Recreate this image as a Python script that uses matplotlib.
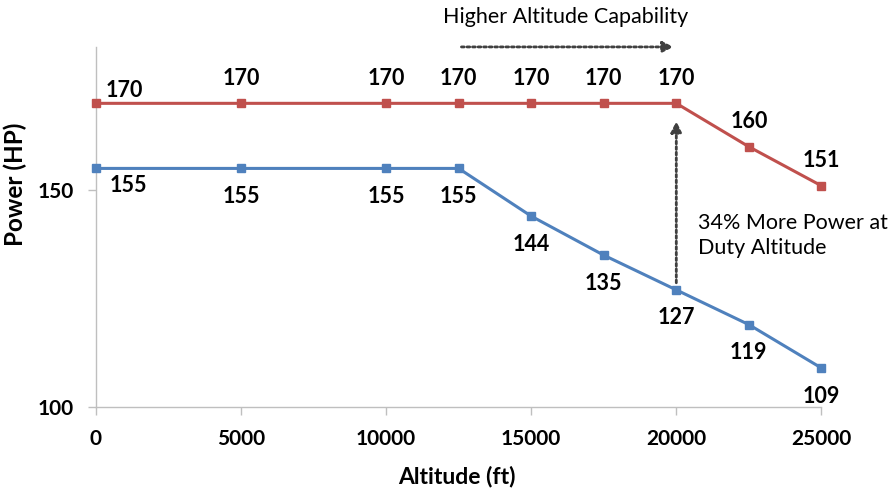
import matplotlib
matplotlib.use('Agg')
import matplotlib.pyplot as plt

# data
altitude = [0, 5000, 10000, 12500, 15000, 17500, 20000, 22500, 25000]
power_new = [170, 170, 170, 170, 170, 170, 170, 160, 151]
power_old = [155, 155, 155, 155, 144, 135, 127, 119, 109]
xticks = [0, 5000, 10000, 15000, 20000, 25000]
yticks = [100, 150]

RED = '#C0504D'
BLUE = '#4F81BD'
AXIS = '#BFBFBF'
DARK = '#404040'

plt.rcParams['font.family'] = ['Lato', 'DejaVu Sans']

fig = plt.figure(figsize=(8.88, 4.94), dpi=100)
ax = fig.add_axes([0.108, 0.176, 0.817, 0.729])

ax.plot(altitude, power_new, color=RED, lw=2.2, marker='s', ms=6, zorder=3, clip_on=False)
ax.plot(altitude, power_old, color=BLUE, lw=2.2, marker='s', ms=6, zorder=3, clip_on=False)

# data labels, red above, blue below (first ones nudged right)
for i, (x, y) in enumerate(zip(altitude, power_new)):
    dx, dy = (28, 13) if i == 0 else (0, 25)
    ax.annotate(str(y), (x, y), xytext=(dx, dy), textcoords='offset pixels',
                ha='center', va='center', fontsize=15.5, fontweight='bold', color='black')
for i, (x, y) in enumerate(zip(altitude, power_old)):
    dx, dy = (32, -17) if i == 0 else (0, -28)
    ax.annotate(str(y), (x, y), xytext=(dx, dy), textcoords='offset pixels',
                ha='center', va='center', fontsize=15.5, fontweight='bold', color='black')

ax.set_xlim(0, 25000)
ax.set_ylim(100, 183)
ax.set_xticks(xticks)
ax.set_yticks(yticks)
ax.tick_params(labelsize=15, length=6, width=1, color=AXIS, pad=10)
for lbl in ax.get_xticklabels() + ax.get_yticklabels():
    lbl.set_fontweight('bold')

for s in ['top', 'right']:
    ax.spines[s].set_visible(False)
for s in ['left', 'bottom']:
    ax.spines[s].set_color(AXIS)
    ax.spines[s].set_linewidth(1)

ax.set_xlabel('Altitude (ft)', fontsize=16.5, fontweight='bold')
ax.xaxis.set_label_coords(0.497, -0.162)
ax.set_ylabel('Power (HP)', fontsize=17.5, fontweight='bold')
ax.yaxis.set_label_coords(-0.095, 0.619)

# annotations
ax.annotate('', xy=(20000, 183), xytext=(12500, 183),
            arrowprops=dict(arrowstyle='-|>', color=DARK, lw=2, linestyle=(0, (1, 1)),
                            mutation_scale=16),
            annotation_clip=False)
ax.text(16200, 190, 'Higher Altitude Capability', ha='center', va='center',
        fontsize=15.5, color='black', clip_on=False)

ax.annotate('', xy=(20000, 166.5), xytext=(20000, 128),
            arrowprops=dict(arrowstyle='-|>', color=DARK, lw=2, linestyle=(0, (1, 1)),
                            mutation_scale=16))
ax.text(20750, 139.6, '34% More Power at\nDuty Altitude', ha='left', va='center',
        fontsize=15.5, color='black', linespacing=1.3)

fig.savefig('out.png', dpi=100)
